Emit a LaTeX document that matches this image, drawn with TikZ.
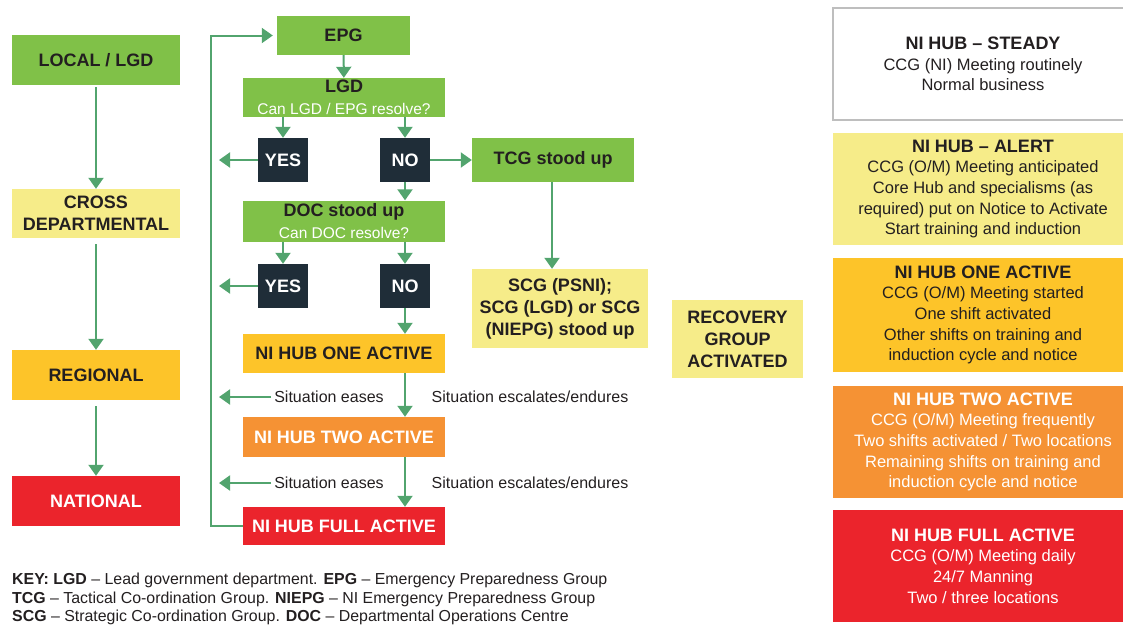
\documentclass[tikz,border=0pt]{standalone}
\usepackage{fontspec}
\setmainfont{Liberation Sans}
\usetikzlibrary{arrows.meta}

\definecolor{ink}{RGB}{35,31,32}
\definecolor{leaf}{RGB}{128,193,72}
\definecolor{pale}{RGB}{246,236,137}
\definecolor{gold}{RGB}{253,196,41}
\definecolor{amber}{RGB}{245,146,52}
\definecolor{alarm}{RGB}{235,36,44}
\definecolor{navy}{RGB}{31,45,56}
\definecolor{pipe}{RGB}{82,164,110}
\definecolor{rim}{RGB}{190,190,190}

\tikzset{
  base/.style={inner sep=0pt, align=center, text=ink, font=\bfseries\fontsize{18}{22}\selectfont},
  grnbox/.style={base, fill=leaf},
  palebox/.style={base, fill=pale},
  goldbox/.style={base, fill=gold},
  ambbox/.style={base, fill=amber, text=white},
  redbox/.style={base, fill=alarm, text=white},
  answer/.style={base, fill=navy, text=white, minimum width=50pt, minimum height=44pt},
  hubbox/.style={inner sep=0pt, align=center, text=ink, minimum width=300pt, minimum height=112pt,
    font=\fontsize{16.5}{20.7}\selectfont},
  note/.style={inner sep=3pt, text=ink, font=\fontsize{16}{19}\selectfont},
  flow/.style={draw=pipe, line width=2pt, -{Triangle[width=15pt,length=11pt]}}
}
\newcommand{\hubtitle}[1]{{\bfseries\fontsize{18}{20.7}\selectfont #1}}
\newcommand{\asks}[1]{{\mdseries\color{white}\fontsize{15.5}{19}\selectfont #1}}

\begin{document}
\begin{tikzpicture}[x=1pt, y=-1pt]
    \useasboundingbox (0,0) rectangle (1123,624);

    % Levels on the left
    \node[grnbox, minimum width=168pt, minimum height=50pt] (local) at (96,60) {LOCAL / LGD};
    \node[palebox, minimum width=168pt, minimum height=49pt] (crossdept) at (96,213.5) {CROSS\\DEPARTMENTAL};
    \node[goldbox, minimum width=168pt, minimum height=50pt] (regional) at (96,375) {REGIONAL};
    \node[redbox, minimum width=168pt, minimum height=50pt] (national) at (96,501) {NATIONAL};

    \draw[flow, shorten <=2pt] (local) -- (crossdept);
    \draw[flow, shorten <=6pt] (crossdept) -- (regional);
    \draw[flow, shorten <=6pt] (regional) -- (national);

    % Decision boxes in the middle
    \node[grnbox, minimum width=133pt, minimum height=39pt] (epg) at (343.5,35.5) {EPG};
    \node[grnbox, minimum width=202pt, minimum height=39pt] (lgd) at (344,97.5)
        {LGD\\\asks{Can LGD / EPG resolve?}};
    \node[answer] (yesA) at (283,160) {YES};
    \node[answer] (noA) at (405,160) {NO};
    \node[grnbox, minimum width=162pt, minimum height=44pt] (tcg) at (553,160) {TCG stood up};
    \node[grnbox, minimum width=202pt, minimum height=41pt] (doc) at (344,221)
        {DOC stood up\\\asks{Can DOC resolve?}};
    \node[answer] (yesB) at (283,286) {YES};
    \node[answer] (noB) at (405,286) {NO};
    \node[palebox, minimum width=176pt, minimum height=79pt] (scg) at (560,308.5)
        {SCG (PSNI);\\SCG (LGD) or SCG\\(NIEPG) stood up};
    \node[goldbox, minimum width=202pt, minimum height=39pt] (hubone) at (344,353.5) {NI HUB ONE ACTIVE};
    \node[ambbox, minimum width=202pt, minimum height=40pt] (hubtwo) at (344,437) {NI HUB TWO ACTIVE};
    \node[redbox, minimum width=202pt, minimum height=38pt] (hubfull) at (344,526) {NI HUB FULL ACTIVE};
    \node[palebox, minimum width=131pt, minimum height=78pt] (recovery) at (737.5,339)
        {RECOVERY\\GROUP\\ACTIVATED};

    % Situation labels
    \node[note] (easeA) at (329,397) {Situation eases};
    \node[note] (escA) at (530,397) {Situation escalates/endures};
    \node[note] (easeB) at (329,483) {Situation eases};
    \node[note] (escB) at (530,483) {Situation escalates/endures};

    % Return line
    \coordinate (loop) at (211,0);
    \coordinate (back) at (219,0);

    % Arrows between boxes
    \draw[flow] (epg) -- (lgd);
    \draw[flow] (yesA.north |- lgd.south) -- (yesA.north);
    \draw[flow] (noA.north |- lgd.south) -- (noA.north);
    \draw[flow] (noA) -- (tcg);
    \draw[flow] (noA) -- (noA.south |- doc.north);
    \draw[flow] (tcg.south -| 552,0) -- (scg.north -| 552,0);
    \draw[flow] (yesB.north |- doc.south) -- (yesB.north);
    \draw[flow] (noB.north |- doc.south) -- (noB.north);
    \draw[flow] (noB) -- (noB.south |- hubone.north);
    \draw[flow] (noB.south |- hubone.south) -- (noB.south |- hubtwo.north);
    \draw[flow] (noB.south |- hubtwo.south) -- (noB.south |- hubfull.north);

    % Arrows back to the return line
    \draw[flow] (yesA) -- (yesA.west -| back);
    \draw[flow] (yesB) -- (yesB.west -| back);
    \draw[flow] (easeA.west) -- (easeA.west -| back);
    \draw[flow] (easeB.west) -- (easeB.west -| back);
    \draw[flow, shorten >=4pt] (hubfull.west) -- (hubfull.west -| loop) |- (epg.west);

    % Hub states on the right
    \node[hubbox, draw=rim, line width=1.2pt, fill=white] (steady) at (983,64)
        {\hubtitle{NI HUB -- STEADY}\\CCG (NI) Meeting routinely\\Normal business};
    \node[hubbox, fill=pale] (alert) at (983,189)
        {\hubtitle{NI HUB -- ALERT}\\CCG (O/M) Meeting anticipated\\Core Hub and specialisms (as\\required) put on Notice to Activate\\Start training and induction};
    \node[hubbox, fill=gold, minimum height=114pt] (oneact) at (983,315)
        {\hubtitle{NI HUB ONE ACTIVE}\\CCG (O/M) Meeting started\\One shift activated\\Other shifts on training and\\induction cycle and notice};
    \node[hubbox, fill=amber, text=white] (twoact) at (983,442)
        {\hubtitle{NI HUB TWO ACTIVE}\\CCG (O/M) Meeting frequently\\Two shifts activated / Two locations\\Remaining shifts on training and\\induction cycle and notice};
    \node[hubbox, fill=alarm, text=white] (fullact) at (983,566)
        {\hubtitle{NI HUB FULL ACTIVE}\\CCG (O/M) Meeting daily\\24/7 Manning\\Two / three locations};

    % Key
    \node[anchor=north west, inner sep=0pt, align=left, text=ink, font=\fontsize{15.9}{18.5}\selectfont] (key) at (12,573)
        {\textbf{KEY: LGD} -- Lead government department. \textbf{EPG} -- Emergency Preparedness Group\\
         \textbf{TCG} -- Tactical Co-ordination Group. \textbf{NIEPG} -- NI Emergency Preparedness Group\\
         \textbf{SCG} -- Strategic Co-ordination Group. \textbf{DOC} -- Departmental Operations Centre};
\end{tikzpicture}
\end{document}
